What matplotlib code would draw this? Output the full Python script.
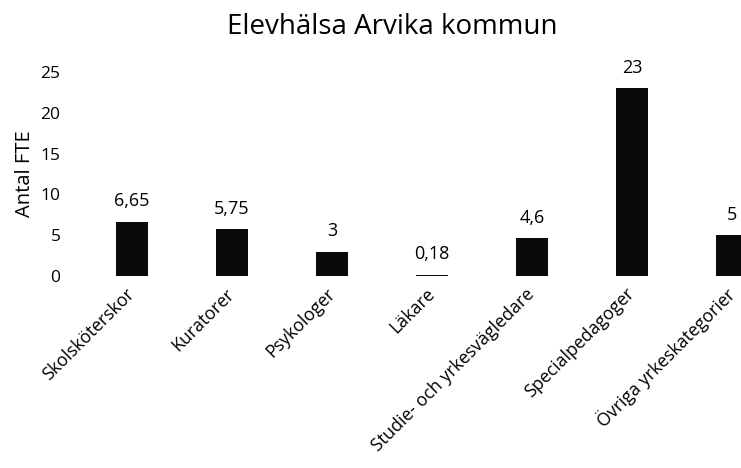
import matplotlib
matplotlib.use("Agg")
import matplotlib.pyplot as plt
import matplotlib.transforms as mtransforms

categories = ["Skolsköterskor", "Kuratorer", "Psykologer", "Läkare",
              "Studie- och yrkesvägledare", "Specialpedagoger", "Övriga yrkeskategorier"]
values = [6.65, 5.75, 3, 0.18, 4.6, 23, 5]
value_labels = ["6,65", "5,75", "3", "0,18", "4,6", "23", "5"]

plt.rcParams["font.family"] = ["Open Sans", "DejaVu Sans"]

fig = plt.figure(figsize=(7.41, 4.68), dpi=100)
ax = fig.add_axes([80 / 741, 192 / 468, 661 / 741, 204 / 468])

x = range(len(categories))
bars = ax.bar(x, values, width=0.32, color="#0a0a0a")

for bar, label in zip(bars, value_labels):
    ax.text(bar.get_x() + bar.get_width() / 2, bar.get_height() + 1.4, label,
            ha="center", va="bottom", fontsize=13, clip_on=False)

ax.set_xlim(-0.52, 6.09)
ax.set_ylim(0, 25)
ax.set_yticks([0, 5, 10, 15, 20, 25])
ax.set_xticks(list(x))
ax.set_xticklabels(categories, rotation=45, ha="right", va="center",
                   rotation_mode="anchor", fontsize=12.8)
# small nudge so the end of each label sits under its bar
shift = mtransforms.ScaledTranslation(6 / 100, 3 / 100, fig.dpi_scale_trans)
for lbl in ax.get_xticklabels():
    lbl.set_transform(lbl.get_transform() + shift)
ax.tick_params(axis="both", length=0)
ax.tick_params(axis="y", pad=14, labelsize=12.5)
ax.tick_params(axis="x", pad=11)
for s in ax.spines.values():
    s.set_visible(False)

ax.set_ylabel("Antal FTE", fontsize=14.5, labelpad=4)
fig.text(0.53, 0.943, "Elevhälsa Arvika kommun", ha="center", va="center", fontsize=20)

fig.savefig("out.png", dpi=100)
